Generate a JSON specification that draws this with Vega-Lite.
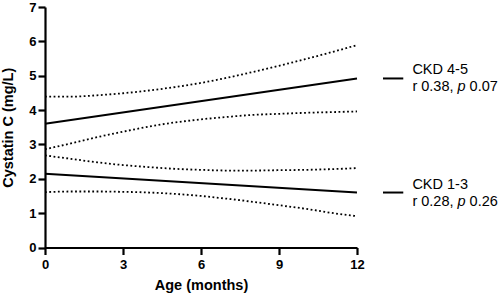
{
  "$schema": "https://vega.github.io/schema/vega-lite/v6.json",
  "width": 312,
  "height": 240.5,
  "autosize": "none",
  "padding": {"left": 45, "top": 7, "right": 143, "bottom": 48.5},
  "background": "white",
  "config": {
    "view": {"stroke": null},
    "font": "Liberation Sans",
    "axis": {"grid": false, "domainColor": "black", "tickColor": "black", "domainWidth": 2.2, "tickWidth": 2.2, "tickSize": 7, "labelColor": "black", "titleColor": "black", "labelFont": "Liberation Sans", "titleFont": "Liberation Sans", "labelFontSize": 13, "labelFontWeight": "bold", "titleFontSize": 14.5, "titleFontWeight": "bold", "labelOverlap": false, "labelFlush": false},
    "axisX": {"labelPadding": 4, "titlePadding": 7},
    "axisY": {"labelPadding": 2, "titlePadding": 13, "tickCount": 8}
  },
  "datasets": {
    "curves": [
      {"group": "CKD 4-5 fit", "kind": "fit", "age": 0, "cys": 3.6},
      {"group": "CKD 4-5 fit", "kind": "fit", "age": 12, "cys": 4.92},
      {"group": "CKD 1-3 fit", "kind": "fit", "age": 0, "cys": 2.15},
      {"group": "CKD 1-3 fit", "kind": "fit", "age": 12, "cys": 1.6},
      {"group": "CKD 4-5 upper", "kind": "ci", "age": 0, "cys": 4.39},
      {"group": "CKD 4-5 upper", "kind": "ci", "age": 1, "cys": 4.39},
      {"group": "CKD 4-5 upper", "kind": "ci", "age": 2, "cys": 4.43},
      {"group": "CKD 4-5 upper", "kind": "ci", "age": 3, "cys": 4.49},
      {"group": "CKD 4-5 upper", "kind": "ci", "age": 4, "cys": 4.57},
      {"group": "CKD 4-5 upper", "kind": "ci", "age": 5, "cys": 4.67},
      {"group": "CKD 4-5 upper", "kind": "ci", "age": 6, "cys": 4.79},
      {"group": "CKD 4-5 upper", "kind": "ci", "age": 7, "cys": 4.94},
      {"group": "CKD 4-5 upper", "kind": "ci", "age": 8, "cys": 5.11},
      {"group": "CKD 4-5 upper", "kind": "ci", "age": 9, "cys": 5.29},
      {"group": "CKD 4-5 upper", "kind": "ci", "age": 10, "cys": 5.48},
      {"group": "CKD 4-5 upper", "kind": "ci", "age": 11, "cys": 5.68},
      {"group": "CKD 4-5 upper", "kind": "ci", "age": 12, "cys": 5.89},
      {"group": "CKD 4-5 lower", "kind": "ci", "age": 0, "cys": 2.86},
      {"group": "CKD 4-5 lower", "kind": "ci", "age": 1, "cys": 3.03},
      {"group": "CKD 4-5 lower", "kind": "ci", "age": 2, "cys": 3.21},
      {"group": "CKD 4-5 lower", "kind": "ci", "age": 3, "cys": 3.37},
      {"group": "CKD 4-5 lower", "kind": "ci", "age": 4, "cys": 3.52},
      {"group": "CKD 4-5 lower", "kind": "ci", "age": 5, "cys": 3.64},
      {"group": "CKD 4-5 lower", "kind": "ci", "age": 6, "cys": 3.73},
      {"group": "CKD 4-5 lower", "kind": "ci", "age": 7, "cys": 3.8},
      {"group": "CKD 4-5 lower", "kind": "ci", "age": 8, "cys": 3.86},
      {"group": "CKD 4-5 lower", "kind": "ci", "age": 9, "cys": 3.89},
      {"group": "CKD 4-5 lower", "kind": "ci", "age": 10, "cys": 3.92},
      {"group": "CKD 4-5 lower", "kind": "ci", "age": 11, "cys": 3.94},
      {"group": "CKD 4-5 lower", "kind": "ci", "age": 12, "cys": 3.96},
      {"group": "CKD 1-3 upper", "kind": "ci", "age": 0, "cys": 2.68},
      {"group": "CKD 1-3 upper", "kind": "ci", "age": 1, "cys": 2.58},
      {"group": "CKD 1-3 upper", "kind": "ci", "age": 2, "cys": 2.48},
      {"group": "CKD 1-3 upper", "kind": "ci", "age": 3, "cys": 2.4},
      {"group": "CKD 1-3 upper", "kind": "ci", "age": 4, "cys": 2.34},
      {"group": "CKD 1-3 upper", "kind": "ci", "age": 5, "cys": 2.29},
      {"group": "CKD 1-3 upper", "kind": "ci", "age": 6, "cys": 2.26},
      {"group": "CKD 1-3 upper", "kind": "ci", "age": 7, "cys": 2.24},
      {"group": "CKD 1-3 upper", "kind": "ci", "age": 8, "cys": 2.24},
      {"group": "CKD 1-3 upper", "kind": "ci", "age": 9, "cys": 2.25},
      {"group": "CKD 1-3 upper", "kind": "ci", "age": 10, "cys": 2.26},
      {"group": "CKD 1-3 upper", "kind": "ci", "age": 11, "cys": 2.28},
      {"group": "CKD 1-3 upper", "kind": "ci", "age": 12, "cys": 2.31},
      {"group": "CKD 1-3 lower", "kind": "ci", "age": 0, "cys": 1.61},
      {"group": "CKD 1-3 lower", "kind": "ci", "age": 1, "cys": 1.63},
      {"group": "CKD 1-3 lower", "kind": "ci", "age": 2, "cys": 1.63},
      {"group": "CKD 1-3 lower", "kind": "ci", "age": 3, "cys": 1.62},
      {"group": "CKD 1-3 lower", "kind": "ci", "age": 4, "cys": 1.6},
      {"group": "CKD 1-3 lower", "kind": "ci", "age": 5, "cys": 1.56},
      {"group": "CKD 1-3 lower", "kind": "ci", "age": 6, "cys": 1.5},
      {"group": "CKD 1-3 lower", "kind": "ci", "age": 7, "cys": 1.42},
      {"group": "CKD 1-3 lower", "kind": "ci", "age": 8, "cys": 1.33},
      {"group": "CKD 1-3 lower", "kind": "ci", "age": 9, "cys": 1.23},
      {"group": "CKD 1-3 lower", "kind": "ci", "age": 10, "cys": 1.13},
      {"group": "CKD 1-3 lower", "kind": "ci", "age": 11, "cys": 1.01},
      {"group": "CKD 1-3 lower", "kind": "ci", "age": 12, "cys": 0.91}
    ],
    "keys": [
      {"group": "CKD 4-5", "x1": 13.0, "x2": 13.78, "y": 4.92},
      {"group": "CKD 1-3", "x1": 13.0, "x2": 13.78, "y": 1.6}
    ],
    "labels": [
      {"text": "CKD 4-5", "style": "normal", "x": 14.13, "y": 5.16},
      {"text": "r 0.38,", "style": "normal", "x": 14.13, "y": 4.67},
      {"text": "p", "style": "italic", "x": 15.87, "y": 4.67},
      {"text": "0.07", "style": "normal", "x": 16.33, "y": 4.67},
      {"text": "CKD 1-3", "style": "normal", "x": 14.13, "y": 1.82},
      {"text": "r 0.28,", "style": "normal", "x": 14.13, "y": 1.33},
      {"text": "p", "style": "italic", "x": 15.87, "y": 1.33},
      {"text": "0.26", "style": "normal", "x": 16.33, "y": 1.33}
    ]
  },
  "encoding": {
    "x": {"field": "age", "type": "quantitative", "scale": {"domain": [0, 12], "nice": false}, "axis": {"values": [0, 3, 6, 9, 12], "title": "Age (months)"}},
    "y": {"field": "cys", "type": "quantitative", "scale": {"domain": [0, 7], "nice": false}, "axis": {"values": [0, 1, 2, 3, 4, 5, 6, 7], "title": "Cystatin C (mg/L)"}}
  },
  "layer": [
    {
      "data": {"name": "curves"},
      "transform": [{"filter": "datum.kind === 'ci'"}],
      "mark": {"type": "line", "color": "black", "strokeWidth": 1.8, "strokeDash": [1.8, 2.5], "interpolate": "monotone"},
      "encoding": {
        "detail": {"field": "group"}
      }
    },
    {
      "data": {"name": "curves"},
      "transform": [{"filter": "datum.kind === 'fit'"}],
      "mark": {"type": "line", "color": "black", "strokeWidth": 2},
      "encoding": {
        "detail": {"field": "group"}
      }
    },
    {
      "data": {"name": "keys"},
      "mark": {"type": "rule", "color": "black", "strokeWidth": 2},
      "encoding": {
        "x": {"field": "x1", "type": "quantitative", "axis": {"values": [0, 3, 6, 9, 12], "title": "Age (months)"}},
        "x2": {"field": "x2"},
        "y": {"field": "y", "type": "quantitative", "axis": {"values": [0, 1, 2, 3, 4, 5, 6, 7], "title": "Cystatin C (mg/L)"}}
      }
    },
    {
      "data": {"name": "labels"},
      "transform": [{"filter": "datum.style === 'normal'"}],
      "mark": {"type": "text", "align": "left", "baseline": "middle", "fontSize": 14.5, "font": "Liberation Sans", "color": "black"},
      "encoding": {
        "x": {"field": "x", "type": "quantitative", "axis": {"values": [0, 3, 6, 9, 12], "title": "Age (months)"}},
        "y": {"field": "y", "type": "quantitative", "axis": {"values": [0, 1, 2, 3, 4, 5, 6, 7], "title": "Cystatin C (mg/L)"}},
        "text": {"field": "text"}
      }
    },
    {
      "data": {"name": "labels"},
      "transform": [{"filter": "datum.style === 'italic'"}],
      "mark": {"type": "text", "align": "left", "baseline": "middle", "fontSize": 14.5, "fontStyle": "italic", "font": "Liberation Sans", "color": "black"},
      "encoding": {
        "x": {"field": "x", "type": "quantitative", "axis": {"values": [0, 3, 6, 9, 12], "title": "Age (months)"}},
        "y": {"field": "y", "type": "quantitative", "axis": {"values": [0, 1, 2, 3, 4, 5, 6, 7], "title": "Cystatin C (mg/L)"}},
        "text": {"field": "text"}
      }
    }
  ]
}
